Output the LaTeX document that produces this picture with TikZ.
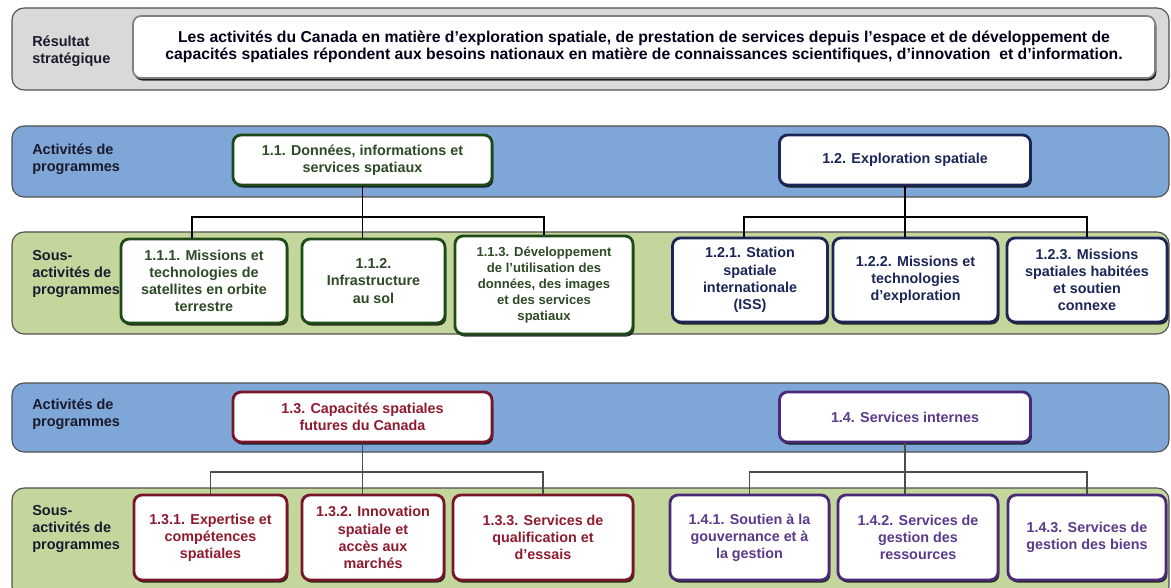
\documentclass[tikz,border=0pt]{standalone}
\usepackage{fontspec}
\setmainfont{Liberation Sans}
\usepackage{xcolor}
\usetikzlibrary{shadows}
\definecolor{vgrayband}{HTML}{D9D9D9}
\definecolor{vgrayedge}{HTML}{505050}
\definecolor{vblueband}{HTML}{7EA6D6}
\definecolor{vgreenband}{HTML}{C3D69B}
\definecolor{vgreen}{HTML}{1F4A17}
\definecolor{vgreentext}{HTML}{2E4A26}
\definecolor{vnavy}{HTML}{1C2557}
\definecolor{vred}{HTML}{7A1428}
\definecolor{vredtext}{HTML}{8E1B2E}
\definecolor{vpurple}{HTML}{4A2A78}
\definecolor{vpurpletext}{HTML}{5B3A8C}
\definecolor{vlabel}{HTML}{1A1A2E}

\tikzset{
	band/.style={draw=vgrayedge, line width=0.8pt, rounded corners=3mm},
	bandlabel/.style={anchor=west, align=left, inner sep=0pt, text=vlabel, font=\fontsize{10.3}{12.4}\selectfont\bfseries},
	boxsize/.style 2 args={minimum width=#1*0.25mm, minimum height=#2*0.25mm},
	box/.style={fill=white, line width=2pt, rounded corners=2mm, align=center, inner sep=1pt, font=\fontsize{10.2}{12.2}\selectfont\bfseries, drop shadow={shadow xshift=1pt, shadow yshift=-1.8pt, opacity=0.8, fill=black}},
	greenbox/.style={box, draw=vgreen, text=vgreentext},
	navybox/.style={box, draw=vnavy, text=vnavy},
	redbox/.style={box, draw=vred, text=vredtext},
	purplebox/.style={box, draw=vpurple, text=vpurpletext},
	link/.style={draw=black, line width=0.9pt}
}

\begin{document}
\begin{tikzpicture}[x=0.25mm, y=-0.25mm]
	\useasboundingbox (0,0) rectangle (1171,588);
	\fill[white] (0,0) rectangle (1171,588);

	\draw[band, fill=vgrayband] (12,8) rectangle (1169,90);
	\draw[band, fill=vblueband] (12,126) rectangle (1169,197);
	\draw[band, fill=vgreenband] (12,232) rectangle (1169,334);
	\draw[band, fill=vblueband] (12,383) rectangle (1169,452);
	\draw[band, fill=vgreenband] (12,488) rectangle (1169,598);

	\node[bandlabel] (lres) at (32,51) {Résultat\\stratégique};
	\node[bandlabel] (lact1) at (32,159) {Activités de\\programmes};
	\node[bandlabel] (lsub1) at (32,274) {Sous-\\activités de\\programmes};
	\node[bandlabel] (lact2) at (32,414) {Activités de\\programmes};
	\node[bandlabel] (lsub2) at (32,529) {Sous-\\activités de\\programmes};

	\node[box, draw=black!50, line width=1.2pt, text=black!90!blue, boxsize={1022}{62}, drop shadow={shadow xshift=0.8pt, shadow yshift=-1.2pt, opacity=0.5, fill=black}, font=\fontsize{11.2}{12.6}\selectfont\bfseries] (hdr) at (644,47) {Les activités du Canada en matière d'exploration spatiale, de prestation de services depuis l'espace et de développement de\\capacités spatiales répondent aux besoins nationaux en matière de connaissances scientifiques, d'innovation\ \ et d'information.};

	\node[greenbox, boxsize={259}{50}] (p11) at (362.5,160) {1.1. Données, informations et\\services spatiaux};
	\node[navybox, boxsize={251}{50}] (p12) at (905,160) {1.2. Exploration spatiale};
	\node[redbox, boxsize={259}{50}] (p13) at (362.5,417) {1.3. Capacités spatiales\\futures du Canada};
	\node[purplebox, boxsize={251}{50}] (p14) at (905,417) {1.4. Services internes};

	\node[greenbox, boxsize={166}{84}] (c111) at (204,281) {1.1.1. Missions et\\technologies de\\satellites en orbite\\terrestre};
	\node[greenbox, boxsize={143}{84}] (c112) at (373.5,281) {1.1.2.\\Infrastructure\\au sol};
	\node[greenbox, boxsize={178}{98}, font=\fontsize{9.3}{11.4}\selectfont\bfseries] (c113) at (544,285) {1.1.3. Développement\\de l'utilisation des\\données, des images\\et des services\\spatiaux};
	\node[navybox, boxsize={155}{84}] (c121) at (750,280) {1.2.1. Station\\spatiale\\internationale\\(ISS)};
	\node[navybox, boxsize={165}{84}] (c122) at (915.5,280) {1.2.2. Missions et\\technologies\\d'exploration};
	\node[navybox, boxsize={160}{84}] (c123) at (1087,280) {1.2.3. Missions\\spatiales habitées\\et soutien\\connexe};

	\node[redbox, boxsize={153}{85}] (c131) at (210.5,537.5) {1.3.1. Expertise et\\compétences\\spatiales};
	\node[redbox, boxsize={142}{85}] (c132) at (373,537.5) {1.3.2. Innovation\\spatiale et\\accès aux\\marchés};
	\node[redbox, boxsize={180}{85}] (c133) at (543,537.5) {1.3.3. Services de\\qualification et\\d'essais};
	\node[purplebox, boxsize={159}{85}] (c141) at (749.5,537.5) {1.4.1. Soutien à la\\gouvernance et à\\la gestion};
	\node[purplebox, boxsize={160}{85}] (c142) at (918,537.5) {1.4.2. Services de\\gestion des\\ressources};
	\node[purplebox, boxsize={158}{85}] (c143) at (1087,537.5) {1.4.3. Services de\\gestion des biens};

	\coordinate (bar1) at (0,217);
	\coordinate (bar2) at (0,472);

	\draw[link] (p11.south) -- (p11.south |- c112.north);
	\draw[link] ([xshift=-3mm]c111.north) |- (bar1 -| c113.north) -- (c113.north);
	\draw[link] (p12.south) -- (p12.south |- c122.north);
	\draw[link] ([xshift=-1.5mm]c121.north) |- (bar1 -| c123.north) -- (c123.north);

	\draw[link, draw=black!70] (p13.south) -- (p13.south |- c132.north);
	\draw[link, draw=black!70] (c131.north) |- (bar2 -| c133.north) -- (c133.north);
	\draw[link, draw=black!70] (p14.south) -- (p14.south |- c142.north);
	\draw[link, draw=black!70] (c141.north) |- (bar2 -| c143.north) -- (c143.north);
\end{tikzpicture}
\end{document}
